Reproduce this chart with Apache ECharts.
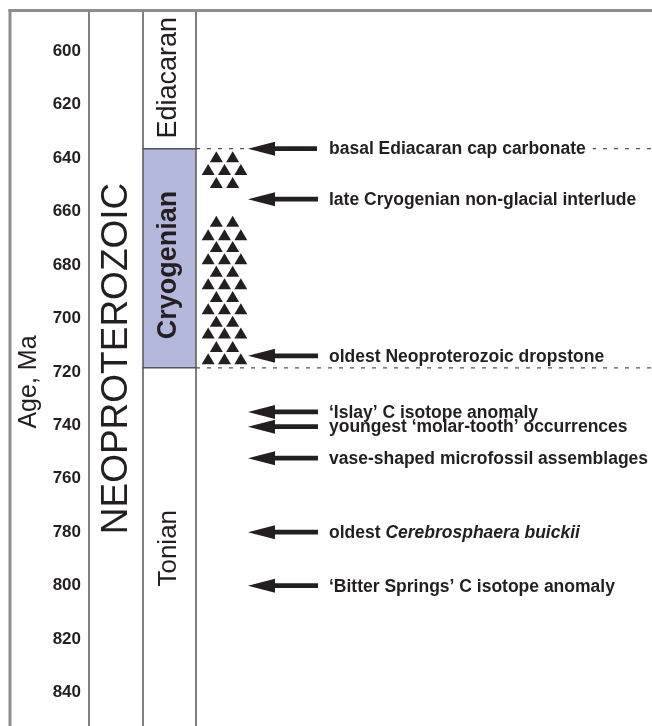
<!DOCTYPE html>
<html><head><meta charset="utf-8">
<script src="https://cdn.jsdelivr.net/npm/echarts@6/dist/echarts.min.js"></script>
<style>html,body{margin:0;padding:0;background:#fff}#c{width:652px;height:726px}</style>
</head><body><div id="c"></div>
<script>
// ---------- DATA ----------
const ageTicks = [600, 620, 640, 660, 680, 700, 720, 740, 760, 780, 800, 820, 840];
const ageMin = 585, ageMax = 852.5;
const eraNames = ['NEOPROTEROZOIC'];
const eraLabelAge = [715];
const periodNames = ['Ediacaran', 'Cryogenian', 'Tonian'];
const periodTop = [541, 636.5, 718.5];
const periodBase = [636.5, 718.5, 1000];
const periodLabelAge = [610, 680, 786];
const boundaryAges = [636.5, 718.5];
const eventLabels = [
  'basal Ediacaran cap carbonate',
  'late Cryogenian non-glacial interlude',
  'oldest Neoproterozoic dropstone',
  '\u2018Islay\u2019 C isotope anomaly',
  'youngest \u2018molar-tooth\u2019 occurrences',
  'vase-shaped microfossil assemblages',
  'oldest {i|Cerebrosphaera buickii}',
  '\u2018Bitter Springs\u2019 C isotope anomaly'
];
const eventAges = [636.5, 655.4, 714, 735, 740.5, 752.3, 780, 800];
// glacial deposit (diamictite) pattern rows: age and number of triangles in row
const diamictiteRowAge = [639.5, 644.3, 649.2, 663.7, 668.7, 673.1, 677.7, 682.4, 687.0, 691.8, 696.4, 701.1, 705.5, 710.5, 715.1];
const diamictiteRowCount = [2, 3, 2, 2, 3, 2, 3, 2, 3, 2, 3, 2, 3, 2, 3];

// ---------- LAYOUT / STYLE ----------
const FONT = "'Liberation Sans', Arial, Helvetica, sans-serif";
const INK = '#231f20';
const LINE = '#555555';
const colEra = [89, 143];
const colPeriod = [143, 196];
const arrowTipX = 248, arrowHeadX = 275, arrowEndX = 318, labelX = 329;
const padL = 12, padR = 7;
const periodStyle = {
  Ediacaran: { fill: '#ffffff', fontWeight: 'normal', fontSize: 27 },
  Cryogenian: { fill: '#b4b8dc', fontWeight: 'bold', fontSize: 27 },
  Tonian: { fill: '#ffffff', fontWeight: 'normal', fontSize: 26 }
};

const chart = echarts.init(document.getElementById('c'), null, { renderer: 'canvas' });

const triData = [];
diamictiteRowAge.forEach((a, i) => {
  const n = diamictiteRowCount[i];
  const xs = n === 3 ? [1, 2, 3] : [1.5, 2.5];
  xs.forEach(x => triData.push([x, a]));
});

const option = {
  animation: false,
  backgroundColor: '#ffffff',
  grid: [
    { left: 89, right: 0, top: 11, height: 715 },
    { left: 200, width: 49, top: 11, height: 715 }
  ],
  xAxis: [
    { gridIndex: 0, type: 'value', min: 0, max: 1, show: false },
    { gridIndex: 1, type: 'value', min: 0.5, max: 3.5, show: false }
  ],
  yAxis: [
    {
      gridIndex: 0, type: 'value', inverse: true, min: ageMin, max: ageMax,
      axisLine: { show: true, lineStyle: { color: LINE, width: 1.5 } },
      axisTick: { show: false },
      splitLine: { show: false },
      axisLabel: {
        customValues: ageTicks, margin: 8,
        fontFamily: FONT, fontWeight: 'bold', fontSize: 17, color: INK
      }
    },
    { gridIndex: 1, type: 'value', inverse: true, min: ageMin, max: ageMax, show: false }
  ],
  graphic: [
    { type: 'rect', left: 8.5, top: 9, shape: { width: 644, height: 3 }, style: { fill: '#8e8e8e' }, z: 100 },
    { type: 'rect', left: 8.5, top: 9, shape: { width: 3, height: 717 }, style: { fill: '#8e8e8e' }, z: 100 },
    {
      type: 'text', x: 29, y: 382, rotation: Math.PI / 2,
      style: { text: 'Age, Ma', font: '25px ' + FONT, fill: INK, align: 'center', verticalAlign: 'middle' }
    }
  ],
  series: [
    {
      type: 'custom', name: 'era', xAxisIndex: 0, yAxisIndex: 0, silent: true,
      data: eraNames.map((n, i) => [0, eraLabelAge[i]]),
      encode: { x: 0, y: 1 },
      renderItem: (params, api) => {
        const y = api.coord([0, api.value(1)])[1];
        return {
          type: 'text', x: (colEra[0] + colEra[1]) / 2 + 1, y: y, rotation: Math.PI / 2,
          style: { text: eraNames[params.dataIndex], font: '37px ' + FONT, fill: INK, align: 'center', verticalAlign: 'middle' }
        };
      }
    },
    {
      type: 'custom', name: 'periods', xAxisIndex: 0, yAxisIndex: 0, silent: true, clip: true,
      data: periodNames.map((n, i) => [0, periodTop[i], periodBase[i], periodLabelAge[i]]),
      encode: { x: 0, y: [1, 2] },
      renderItem: (params, api) => {
        const name = periodNames[params.dataIndex];
        const st = periodStyle[name];
        const cs = params.coordSys;
        const y1 = Math.max(api.coord([0, api.value(1)])[1], cs.y - 2);
        const y2 = Math.min(api.coord([0, api.value(2)])[1], cs.y + cs.height + 2);
        const yl = api.coord([0, api.value(3)])[1];
        return {
          type: 'group',
          children: [
            { type: 'rect', shape: { x: colPeriod[0], y: y1, width: colPeriod[1] - colPeriod[0], height: y2 - y1 },
              style: { fill: st.fill, stroke: LINE, lineWidth: 1.5 } },
            { type: 'text', x: (colPeriod[0] + colPeriod[1]) / 2 - 1, y: yl, rotation: Math.PI / 2,
              style: { text: name, font: st.fontWeight + ' ' + st.fontSize + 'px ' + FONT, fill: INK, align: 'center', verticalAlign: 'middle' } }
          ]
        };
      }
    },
    {
      type: 'custom', name: 'boundaries', xAxisIndex: 0, yAxisIndex: 0, silent: true, z: 3,
      data: boundaryAges.map(a => [0, a]),
      encode: { x: 0, y: 1 },
      renderItem: (params, api) => {
        const y = api.coord([0, api.value(1)])[1];
        const cs = params.coordSys;
        return {
          type: 'line', shape: { x1: colPeriod[1], y1: y, x2: cs.x + cs.width, y2: y },
          style: { stroke: LINE, lineWidth: 1.2, lineDash: [4, 7] }
        };
      }
    },
    {
      type: 'scatter', name: 'diamictite', xAxisIndex: 1, yAxisIndex: 1, silent: true, z: 4,
      symbol: 'triangle', symbolSize: [13, 11],
      itemStyle: { color: INK, opacity: 1 },
      data: triData
    },
    {
      type: 'custom', name: 'events', xAxisIndex: 0, yAxisIndex: 0, silent: true, z: 5,
      data: eventAges.map(a => [0, a]),
      encode: { x: 0, y: 1 },
      renderItem: (params, api) => {
        const age = api.value(1);
        const y = api.coord([0, age])[1];
        const onBoundary = boundaryAges.indexOf(age) >= 0;
        const textStyle = {
          text: eventLabels[params.dataIndex],
          font: 'bold 17.5px ' + FONT, fill: INK, align: 'left', verticalAlign: 'middle',
          rich: { i: { fontFamily: FONT, fontWeight: 'bold', fontStyle: 'italic', fontSize: 17.5, fill: INK } }
        };
        let tx = labelX;
        if (onBoundary) { textStyle.backgroundColor = '#ffffff'; textStyle.padding = [0, padR, 0, padL]; tx = labelX - padL; }
        return {
          type: 'group',
          children: [
            { type: 'polygon', shape: { points: [[arrowTipX, y], [arrowHeadX, y - 7], [arrowHeadX, y + 7]] }, style: { fill: INK } },
            { type: 'rect', shape: { x: arrowHeadX - 2, y: y - 2.4, width: arrowEndX - arrowHeadX + 2, height: 4.8 }, style: { fill: INK } },
            { type: 'text', x: tx, y: y + 1, style: textStyle }
          ]
        };
      }
    }
  ]
};
chart.setOption(option);
</script>
</body></html>
